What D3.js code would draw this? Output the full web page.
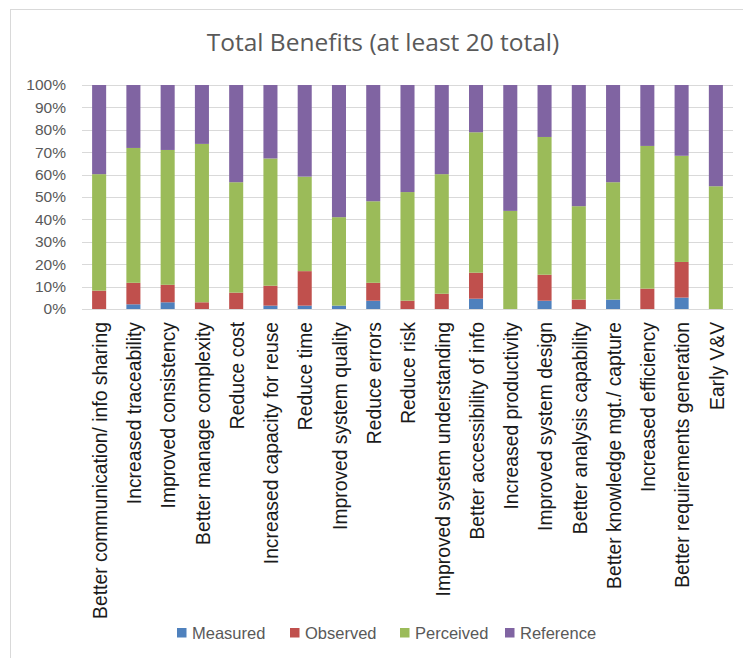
<!DOCTYPE html>
<html>
<head>
<meta charset="utf-8">
<script src="https://cdn.jsdelivr.net/npm/d3@7"></script>
<style>
  html, body { margin: 0; padding: 0; background: #fff; }
  svg { display: block; }
</style>
</head>
<body>
<svg id="chart" width="743" height="658"></svg>
<script>
const categories = [
  "Better communication/ info sharing",
  "Increased traceability",
  "Improved consistency",
  "Better manage complexity",
  "Reduce cost",
  "Increased capacity for reuse",
  "Reduce time",
  "Improved system quality",
  "Reduce errors",
  "Reduce risk",
  "Improved system understanding",
  "Better accessibility of info",
  "Increased productivity",
  "Improved system design",
  "Better analysis capability",
  "Better knowledge mgt./ capture",
  "Increased efficiency",
  "Better requirements generation",
  "Early V&V"
];
const seriesNames = ["Measured", "Observed", "Perceived", "Reference"];
const measured  = [0, 2.1, 3.0, 0, 0, 1.5, 1.5, 1.5, 3.7, 0, 0, 4.6, 0, 3.7, 0, 4.2, 0, 5.1, 0];
const observed  = [8.2, 9.6, 7.8, 3.0, 7.3, 8.9, 15.4, 0, 8.0, 3.7, 6.8, 11.6, 0, 11.6, 4.2, 0, 9.1, 15.9, 0];
const perceived = [52.0, 60.2, 60.2, 70.7, 49.3, 56.8, 42.2, 39.5, 36.4, 48.5, 53.4, 62.7, 43.8, 61.5, 41.7, 52.4, 63.7, 47.4, 54.8];
const reference = [39.8, 28.1, 29.0, 26.3, 43.4, 32.8, 40.9, 59.0, 51.9, 47.8, 39.8, 21.1, 56.2, 23.2, 54.1, 43.4, 27.2, 31.6, 45.2];
const yTicks = [0, 10, 20, 30, 40, 50, 60, 70, 80, 90, 100];
const colors = ["#4f81bd", "#c0504d", "#9bbb59", "#8064a2"];
const title = "Total Benefits (at least 20 total)";

const rows = categories.map((c, i) => ({
  cat: c, Measured: measured[i], Observed: observed[i], Perceived: perceived[i], Reference: reference[i]
}));

const svg = d3.select("#chart");
const W = 743, H = 658;
const plotLeft = 82, plotRight = 733, plotTop = 85, plotBottom = 309;

// chart area border
svg.append("rect").attr("x", 10.5).attr("y", 9.5).attr("width", W + 10).attr("height", H + 10)
  .attr("fill", "#fff").attr("stroke", "#d9d9d9").attr("stroke-width", 1);

// title
svg.append("text").attr("x", 383).attr("y", 51).attr("text-anchor", "middle")
  .attr("font-family", "'Open Sans', sans-serif").attr("font-size", 24.5)
  .attr("fill", "#595959").text(title);

const x = d3.scaleBand().domain(categories).range([plotLeft, plotRight]).paddingInner(0.59).paddingOuter(0.295);
const y = d3.scaleLinear().domain([0, 100]).range([plotBottom, plotTop]);

// gridlines
svg.append("g").selectAll("line").data(yTicks).join("line")
  .attr("x1", plotLeft).attr("x2", plotRight)
  .attr("y1", d => Math.round(y(d)) + 0.5).attr("y2", d => Math.round(y(d)) + 0.5)
  .attr("stroke", "#d9d9d9").attr("stroke-width", 1);

// y axis labels
const yAxis = d3.axisLeft(y).tickValues(yTicks).tickFormat(d => d + "%").tickSize(0).tickPadding(0);
const gy = svg.append("g").attr("transform", `translate(${plotLeft - 16},0)`).call(yAxis);
gy.select(".domain").remove();
gy.selectAll("text").attr("font-family", "'Liberation Sans', Arial, sans-serif")
  .attr("font-size", 15.5).attr("fill", "#595959");

// bars
const stack = d3.stack().keys(seriesNames);
const stacked = stack(rows);
svg.append("g").selectAll("g").data(stacked).join("g")
  .attr("fill", (d, i) => colors[i])
  .selectAll("rect").data(d => d).join("rect")
  .attr("x", d => x(d.data.cat))
  .attr("width", x.bandwidth())
  .attr("y", d => y(d[1]))
  .attr("height", d => Math.max(0, y(d[0]) - y(d[1])));

// x axis labels
const xAxis = d3.axisBottom(x).tickSize(0).tickPadding(0);
const gx = svg.append("g").attr("transform", `translate(0,${plotBottom})`).call(xAxis);
gx.select(".domain").remove();
gx.selectAll("text")
  .attr("font-family", "'Liberation Sans', Arial, sans-serif")
  .attr("font-size", 19.3).attr("fill", "#1a1a1a")
  .attr("text-anchor", "end")
  .attr("transform", "rotate(-90)")
  .attr("x", -13).attr("y", 1).attr("dy", "0.35em");

// legend
const legendX = [177, 290, 400, 505];
const lg = svg.append("g").selectAll("g").data(seriesNames).join("g")
  .attr("transform", (d, i) => `translate(${legendX[i]},628)`);
lg.append("rect").attr("width", 9.5).attr("height", 9.5).attr("fill", (d, i) => colors[i]);
lg.append("text").attr("x", 15).attr("y", 10.5)
  .attr("font-family", "'Liberation Sans', Arial, sans-serif").attr("font-size", 16.5)
  .attr("fill", "#595959").text(d => d);
</script>
</body>
</html>
